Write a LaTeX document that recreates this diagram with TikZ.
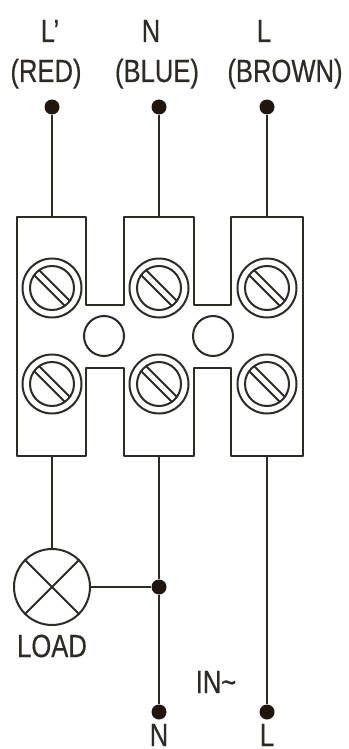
\documentclass[tikz,border=0pt]{standalone}
\usepackage{fontspec}
\setmainfont[FakeStretch=0.8,FakeBold=0.4]{Liberation Sans}
\definecolor{ink}{HTML}{2E2A26}
\definecolor{blob}{HTML}{21160E}
\tikzset{
    wire/.style = {ink,line width=2.4pt},
    thinwire/.style = {ink,line width=1.4pt},
    screwline/.style = {ink,line width=2pt},
    dot/.style = {circle,fill=blob,draw=none,inner sep=0pt,minimum size=15pt},
    caption/.style = {text=ink,inner sep=0pt,anchor=base,font=\fontsize{32}{32}\selectfont},
}
\begin{document}
\begin{tikzpicture}[x=1pt,y=-1pt]
    \useasboundingbox (0,0) rectangle (348,749);

    % terminal block
    \draw[wire,line join=round]
        (17,217) -- (86,217) -- (86,305) -- (124,305) -- (124,217) -- (194,217)
        -- (194,305) -- (231,305) -- (231,217) -- (303,217) -- (303,456)
        -- (231,456) -- (231,368) -- (194,368) -- (194,456) -- (124,456)
        -- (124,368) -- (86,368) -- (86,456) -- (17,456) -- cycle;

    % screws
    \foreach \sx in {52,159,267}
        \foreach \sy in {288,384} {
            \draw[screwline] (\sx,\sy) circle (29.5pt);
            \draw[screwline] (\sx,\sy) circle (22pt);
            \draw[screwline] (\sx-17.5,\sy-12.5) -- (\sx+12.5,\sy+17.5);
            \draw[screwline] (\sx-12.5,\sy-17.5) -- (\sx+17.5,\sy+12.5);
        }

    % holes
    \draw[screwline] (104,336) circle (20pt);
    \draw[screwline] (213,336) circle (20pt);

    % end points on the block
    \coordinate (blocktopa) at (52,217);
    \coordinate (blocktopb) at (159,217);
    \coordinate (blocktopc) at (267,217);
    \coordinate (blockbota) at (52,456);
    \coordinate (blockbotb) at (159,456);
    \coordinate (blockbotc) at (267,456);

    \node[dot] (topa) at (52,107) {};
    \node[dot] (topb) at (159,107) {};
    \node[dot] (topc) at (267,107) {};
    \node[dot] (junction) at (159,587) {};
    \node[dot] (endn) at (159,712) {};
    \node[dot] (endl) at (267,712) {};

    \node[circle,draw=ink,line width=2pt,inner sep=0pt,minimum size=76pt] (load) at (52,587) {};
    \draw[screwline] (load.45) -- (load.225);
    \draw[screwline] (load.135) -- (load.315);

    \draw[wire] (topa) -- (blocktopa);
    \draw[wire] (topb) -- (blocktopb);
    \draw[wire] (topc) -- (blocktopc);
    \draw[thinwire] (blockbota) -- (load);
    \draw[wire] (blockbotb) -- (junction);
    \draw[wire] (junction) -- (endn);
    \draw[wire] (blockbotc) -- (endl);
    \draw[wire] (load) -- (junction);

    % labels
    \node[caption] (nameld) at (50,42) {L'};
    \node[caption] (namen) at (151,42) {N};
    \node[caption] (namel) at (264,42) {L};
    \node[caption] (red) at (46,82) {(RED)};
    \node[caption] (blue) at (157,82) {(BLUE)};
    \node[caption] (brown) at (285,82) {(BROWN)};
    \node[caption] (loadname) at (52,657) {LOAD};
    \node[caption] (innote) at (216,693) {IN\textasciitilde};
    \node[caption] (bottomn) at (159,746) {N};
    \node[caption] (bottoml) at (267,746) {L};
\end{tikzpicture}
\end{document}
